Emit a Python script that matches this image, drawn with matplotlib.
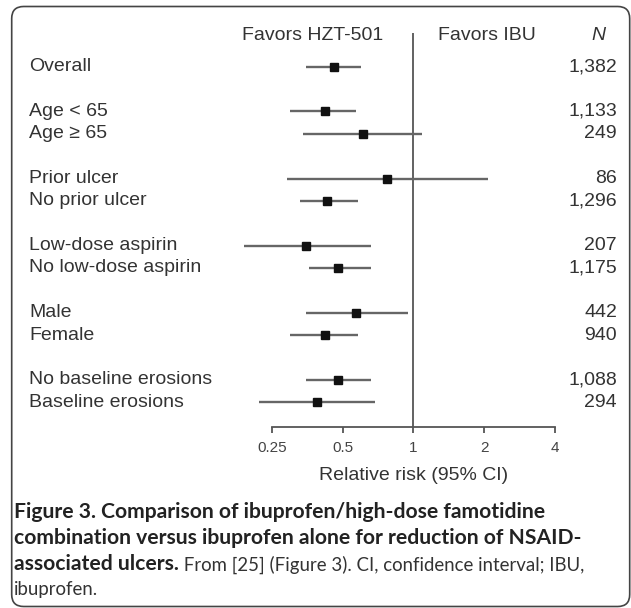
import matplotlib
matplotlib.use("Agg")
import matplotlib.pyplot as plt
import matplotlib.transforms as mtransforms
from matplotlib.patches import FancyBboxPatch

plt.rcParams['font.family'] = ['Liberation Sans', 'DejaVu Sans']

# --- data ---
labels = ["Overall", "Age < 65", "Age \u2265 65", "Prior ulcer", "No prior ulcer",
          "Low-dose aspirin", "No low-dose aspirin", "Male", "Female",
          "No baseline erosions", "Baseline erosions"]
rows = [0, 2, 3, 5, 6, 8, 9, 11, 12, 14, 15]
rr = [0.46, 0.42, 0.61, 0.77, 0.43, 0.35, 0.48, 0.57, 0.42, 0.48, 0.39]
ci_lo = [0.35, 0.30, 0.34, 0.29, 0.33, 0.19, 0.36, 0.35, 0.30, 0.35, 0.22]
ci_hi = [0.60, 0.57, 1.09, 2.07, 0.58, 0.66, 0.66, 0.945, 0.58, 0.66, 0.685]
n_pat = ["1,382", "1,133", "249", "86", "1,296", "207", "1,175", "442", "940",
         "1,088", "294"]
xticks = [0.25, 0.5, 1, 2, 4]
xtick_labels = ["0.25", "0.5", "1", "2", "4"]

W, H = 631, 608
fig = plt.figure(figsize=(W / 100, H / 100), dpi=100)

txt_col = '#333333'
line_col = '#666666'

# axes spans full width; x limits chosen so 0.25 -> 272px and 4 -> 555px
ax = fig.add_axes([0, 1 - 426.7 / H, 1, (426.7 - 20) / H])
ax.set_xscale('log', base=2)
ax.set_xlim(2 ** -5.838, 2 ** 3.075)
ax.set_ylim(16.1, -2.09)

# CI lines and point estimates
ax.hlines(rows, ci_lo, ci_hi, color=line_col, lw=1.7, zorder=2)
ax.plot(rr, rows, 's', color='#111111', ms=6, zorder=3)

# line of no effect
ax.vlines(1, -1.5, 16.1, color='#555555', lw=1.3, zorder=1)

# axis styling
for s in ['top', 'right', 'left']:
    ax.spines[s].set_visible(False)
ax.spines['bottom'].set_bounds(0.25, 4)
ax.spines['bottom'].set_color('#555555')
ax.spines['bottom'].set_linewidth(1.3)
ax.set_yticks([])
ax.set_xticks(xticks)
ax.set_xticklabels(xtick_labels)
ax.minorticks_off()
ax.tick_params(axis='x', direction='out', length=4.5, width=1.3, color='#555555',
               pad=6, labelsize=11, labelcolor='#444444')
ax.patch.set_visible(False)

ax.text(1, 18.27, "Relative risk (95% CI)", ha='center', va='center',
        fontsize=14, color=txt_col)

# row labels and N column (x in figure fraction, y in data rows)
trans = mtransforms.blended_transform_factory(fig.transFigure, ax.transData)
for lab, y, n in zip(labels, rows, n_pat):
    ax.text(29 / W, y, lab, transform=trans, ha='left', va='center',
            fontsize=14, color=txt_col)
    ax.text(617 / W, y, n, transform=trans, ha='right', va='center',
            fontsize=14, color=txt_col)

# header
hy = 1 - 35 / H
fig.text(383 / W, hy, "Favors HZT-501", ha='right', va='center', fontsize=14, color=txt_col)
fig.text(438 / W, hy, "Favors IBU", ha='left', va='center', fontsize=14, color=txt_col)
fig.text(598 / W, hy, "N", ha='center', va='center', fontsize=14, style='italic', color=txt_col)

# caption
cap_font = ['Lato', 'DejaVu Sans']
cap_x = 14 / W
fig.text(cap_x, 1 - 512 / H, "Figure 3. Comparison of ibuprofen/high-dose famotidine",
         fontsize=15.2, fontweight='bold', family=cap_font, color='#222222', va='center')
fig.text(cap_x, 1 - 538 / H, "combination versus ibuprofen alone for reduction of NSAID-",
         fontsize=15.2, fontweight='bold', family=cap_font, color='#222222', va='center')
t3 = fig.text(cap_x, 1 - 564 / H, "associated ulcers.", fontsize=15.2, fontweight='bold',
              family=cap_font, color='#222222', va='center')
fig.add_artist(plt.Annotation(" From [25] (Figure 3). CI, confidence interval; IBU,",
                              xy=(1, 0), xycoords=t3, va='bottom', ha='left',
                              fontsize=13.4, family=cap_font, color='#333333'))
fig.text(cap_x, 1 - 590 / H, "ibuprofen.", fontsize=13.4, family=cap_font,
         color='#333333', va='center')

# rounded frame around the figure
frame = FancyBboxPatch((11.7, 1.5), 618, 600, boxstyle="round,pad=0,rounding_size=12",
                       transform=mtransforms.IdentityTransform(), fill=False,
                       edgecolor='#444444', lw=1.2)
fig.add_artist(frame)

fig.savefig("out.png", dpi=100)
